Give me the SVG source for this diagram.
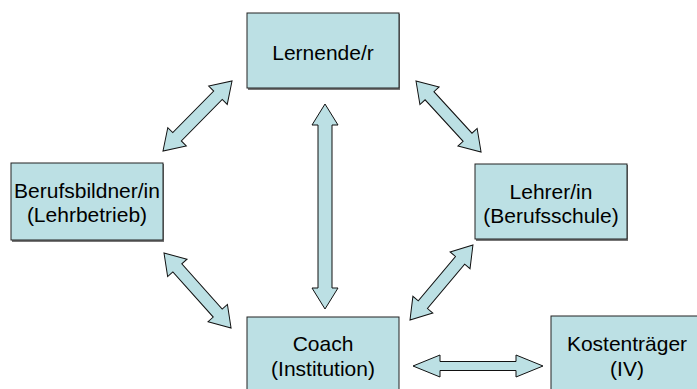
<svg xmlns="http://www.w3.org/2000/svg" width="697" height="389" viewBox="0 0 697 389">
  <style>
    .box { fill: #BCE0E4; stroke: #222; stroke-width: 1; }
    .shadow { fill: #777; }
    .arrow { fill: #BCE0E4; stroke: #111; stroke-width: 1; stroke-linejoin: miter; }
    .ashadow { fill: #999; }
    .label { font-family: "Liberation Sans", Arial, sans-serif; font-size: 21px; fill: #000; text-anchor: middle; }
  </style>
  <rect width="697" height="389" fill="#fff"/>

  <!-- connectors: double-headed block arrows -->
  <g id="connectors">
    <!-- Lernende/r <-> Berufsbildner/in -->
    <g transform="translate(163,151) rotate(-45.4)">
      <polygon class="arrow" points="0,0 20,-13 20,-6 78.3,-6 78.3,-13 98.3,0 78.3,13 78.3,6 20,6 20,13"/>
    </g>
    <!-- Lernende/r <-> Lehrer/in -->
    <g transform="translate(416,81) rotate(47.5)">
      <polygon class="arrow" points="0,0 20,-13 20,-6 76.3,-6 76.3,-13 96.3,0 76.3,13 76.3,6 20,6 20,13"/>
    </g>
    <!-- Berufsbildner/in <-> Coach -->
    <g transform="translate(164,253) rotate(48.2)">
      <polygon class="arrow" points="0,0 20,-13 20,-6 80.6,-6 80.6,-13 100.6,0 80.6,13 80.6,6 20,6 20,13"/>
    </g>
    <!-- Lehrer/in <-> Coach -->
    <g transform="translate(410,320) rotate(-50)">
      <polygon class="arrow" points="0,0 20,-13 20,-6 77.9,-6 77.9,-13 97.9,0 77.9,13 77.9,6 20,6 20,13"/>
    </g>
    <!-- Lernende/r <-> Coach -->
    <polygon class="arrow" points="325,104 338,125 332,125 332,288 338,288 325,309 312,288 318,288 318,125 312,125"/>
    <!-- Coach <-> Kostenträger -->
    <polygon class="arrow" points="413,366 440,355 440,361.5 516,361.5 516,355 543,366 516,377 516,370.5 440,370.5 440,377"/>
  </g>

  <g id="lernende">
    <rect class="shadow" x="248" y="14" width="152" height="76"/>
    <rect class="box" x="247" y="13" width="152" height="75"/>
    <text class="label" x="323" y="60">Lernende/r</text>
  </g>

  <g id="berufsbildner">
    <rect class="shadow" x="12" y="164" width="152" height="78"/>
    <rect class="box" x="11" y="163" width="152" height="77"/>
    <text class="label" x="87" y="198">Berufsbildner/in</text>
    <text class="label" x="87" y="222">(Lehrbetrieb)</text>
  </g>

  <g id="lehrer">
    <rect class="shadow" x="476" y="165" width="152" height="76"/>
    <rect class="box" x="475" y="164" width="152" height="75"/>
    <text class="label" x="551" y="199">Lehrer/in</text>
    <text class="label" x="551" y="223">(Berufsschule)</text>
  </g>

  <g id="coach">
    <rect class="box" x="247" y="317" width="152" height="80"/>
    <text class="label" x="323" y="351">Coach</text>
    <text class="label" x="323" y="376">(Institution)</text>
  </g>

  <g id="kostentraeger">
    <rect class="box" x="551" y="316" width="152" height="80"/>
    <text class="label" x="627" y="351">Kostenträger</text>
    <text class="label" x="627" y="376">(IV)</text>
  </g>
</svg>
